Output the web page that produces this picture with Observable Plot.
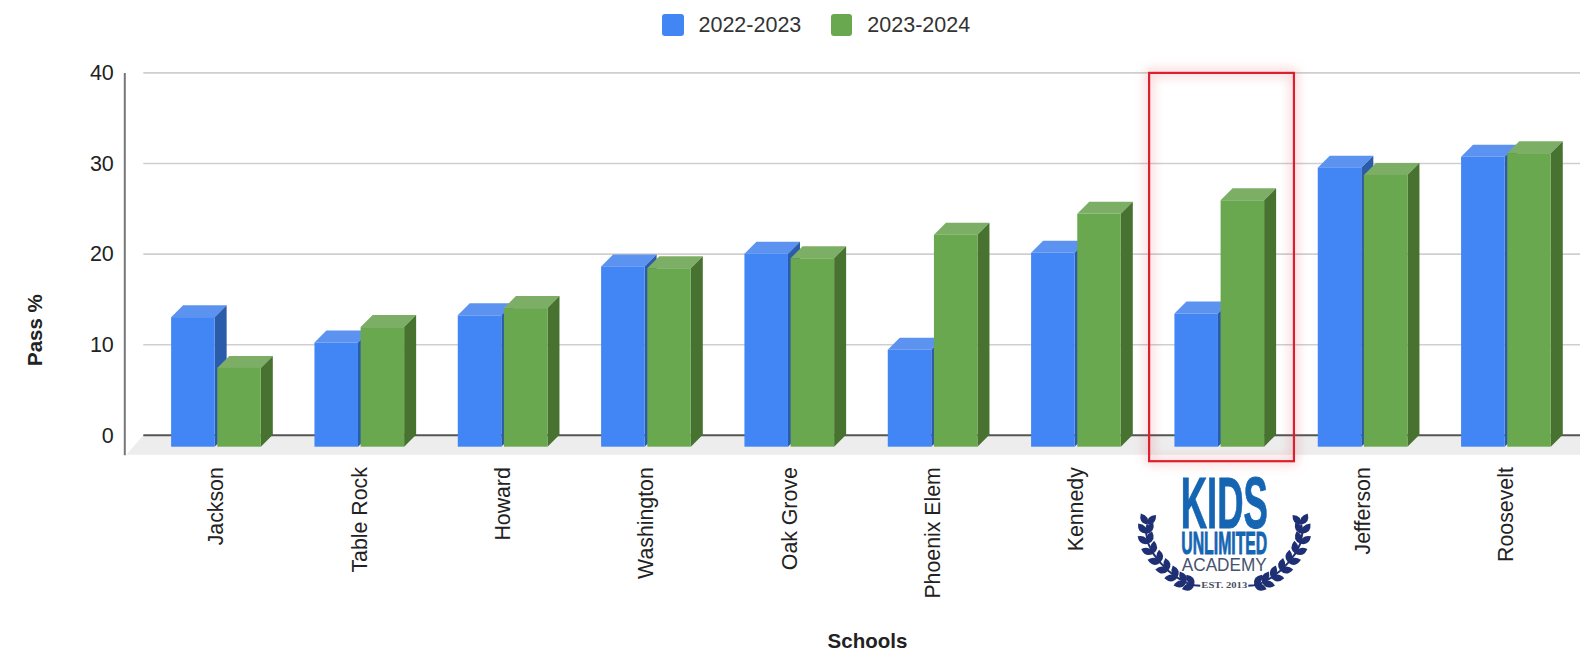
<!DOCTYPE html>
<html>
<head>
<meta charset="utf-8">
<script src="https://cdn.jsdelivr.net/npm/d3@7"></script>
<script src="https://cdn.jsdelivr.net/npm/@observablehq/plot@0.6"></script>
<style>
  html, body { margin: 0; padding: 0; background: #fff; }
  body { width: 1580px; height: 651px; overflow: hidden; font-family: "Liberation Sans", Arial, sans-serif; }
  #legend { height: 50px; position: relative; display: flex; align-items: flex-start; padding-left: 662px; box-sizing: border-box; padding-top: 14px; }
  .item { display: flex; align-items: center; height: 22px; margin-right: 29.5px; font-size: 21.5px; color: #333; }
  .swatch { width: 21.5px; height: 22px; border-radius: 3px; margin-right: 15px; }
  svg { display: block; }
</style>
</head>
<body>
<div id="legend"></div>
<div id="chart"></div>
<script>
const schools = ["Jackson", "Table Rock", "Howard", "Washington", "Oak Grove", "Phoenix Elem", "Kennedy", "Kids Unlimited Academy", "Jefferson", "Roosevelt"];
const seriesNames = ["2022-2023", "2023-2024"];
const values2022 = [14.3, 11.5, 14.5, 19.9, 21.3, 10.7, 21.4, 14.7, 30.8, 32.0];
const values2023 = [8.7, 13.2, 15.3, 19.7, 20.8, 23.4, 25.7, 27.2, 30.0, 32.4];
const yTicks = [0, 10, 20, 30, 40];
const highlighted = "Kids Unlimited Academy";

const front = ["#4285f4", "#6aa84f"];
const topFace = ["#5c93f0", "#7dae65"];
const sideFace = ["#2b5cab", "#47722f"];
const DEPTH = 12;
const BACK = 11.4;

const rows = schools.flatMap((school, i) => [
  {school, series: seriesNames[0], value: values2022[i]},
  {school, series: seriesNames[1], value: values2023[i]}
]);

const ns = "http://www.w3.org/2000/svg";
function el(name, attrs, text) {
  const e = document.createElementNS(ns, name);
  for (const k in attrs) e.setAttribute(k, attrs[k]);
  if (text) e.textContent = text;
  return e;
}

// adds the top and side faces behind every bar the library drew
function box3d(index, scales, values, dimensions, context, next) {
  const g = next(index, scales, values, dimensions, context);
  g.querySelectorAll("rect").forEach((r, n) => {
    const x = +r.getAttribute("x"), y = +r.getAttribute("y");
    const w = +r.getAttribute("width"), h = +r.getAttribute("height");
    const k = seriesNames.indexOf(rows[index[n]].series);
    const d = DEPTH;
    const parent = r.parentNode;
    parent.insertBefore(el("path", {fill: topFace[k], stroke: "none",
      d: `M${x},${y}l${d},${-d}h${w}l${-d},${d}z`}), r);
    parent.insertBefore(el("path", {fill: sideFace[k], stroke: "none",
      d: `M${x + w},${y}l${d},${-d}v${h}l${-d},${d}z`}), r);
  });
  return g;
}

// floor under the bars, back-wall grid lines and the vertical axis line
function floorAndAxis(index, scales, values, dimensions) {
  const g = el("g", {});
  const y0 = scales.y(0), y40 = scales.y(40);
  const {marginLeft, width} = dimensions;
  g.appendChild(el("path", {fill: "#ededed",
    d: `M${marginLeft - 1},${y0 - BACK}H${width}V${y0 + 8}H${marginLeft - 18}z`}));
  for (const t of yTicks) {
    g.appendChild(el("line", {x1: marginLeft - 1, x2: width, y1: scales.y(t) - BACK, y2: scales.y(t) - BACK,
      stroke: t === 0 ? "#555" : "#cfcfcf", "stroke-width": t === 0 ? 2 : 1.6}));
  }
  g.appendChild(el("line", {x1: marginLeft - 19.5, x2: marginLeft - 19.5, y1: y40 - BACK, y2: y0 + 8.5,
    stroke: "#777", "stroke-width": 2}));
  return g;
}

// red highlight box and the school's logo, which stands in for its tick label
function highlightAndLogo(index, scales) {
  const g = el("g", {});
  const x0 = scales.fx(highlighted), bw = scales.fx.bandwidth();
  const y0 = scales.y(0), y40 = scales.y(40);
  g.appendChild(el("rect", {x: x0 + 1.5, width: bw + 1.5, y: y40 - BACK, height: y0 - y40 + BACK + 14.5,
    fill: "none", stroke: "#dc1f2e", "stroke-width": 2.2,
    style: "filter: drop-shadow(0 0 6px rgba(220,40,50,.7))"}));
  const logo = el("g", {transform: `translate(${x0 + bw / 2 + 5},${y0})`, "text-anchor": "middle"});
  const word = (t, y, size, len, fill, weight, font, heavy) => logo.appendChild(el("text", {
    x: 0, y, "font-size": size, textLength: len, lengthAdjust: "spacingAndGlyphs",
    fill, "font-weight": weight, "font-family": font, stroke: fill, "stroke-width": heavy}, t));
  word("KIDS", 81, 72, 87, "#1565b3", "bold", "Liberation Sans", 1);
  word("UNLIMITED", 107.8, 31, 86, "#1565b3", "bold", "Liberation Sans", 0.9);
  word("ACADEMY", 124, 19, 85, "#46526e", "normal", "Liberation Sans", 0);
  word("EST. 2013", 141, 8.5, 46, "#4a4f60", "bold", "Liberation Serif", 0);
  const nodes = [[-30, 138.5], [-38, 136], [-47, 131], [-56, 124], [-64, 116], [-71, 107], [-76, 97], [-78, 87], [-77, 78]];
  for (const side of [-1, 1]) {
    const b = el("g", {transform: `scale(${-side},1)`, fill: "#1f2f73"});
    b.appendChild(el("path", {fill: "none", stroke: "#1f2f73", "stroke-width": 2,
      d: "M-24,139L" + nodes.map(p => p.join(",")).join("L")}));
    nodes.forEach(([x, y], i) => {
      const [nx, ny] = nodes[Math.min(i + 1, nodes.length - 1)];
      const [px, py] = nodes[Math.max(i - 1, 0)];
      const base = Math.atan2(ny - py, nx - px) * 180 / Math.PI;
      for (const a of [-36, 36]) {
        b.appendChild(el("path", {transform: `translate(${x},${y}) rotate(${base + a})`,
          d: "M0,0Q6,-7 13,0Q6,7 0,0z"}));
      }
    });
    logo.appendChild(b);
  }
  g.appendChild(logo);
  return g;
}

const chart = Plot.plot({
  width: 1580,
  height: 601,
  marginLeft: 144.3,
  marginRight: 0,
  marginTop: 34.3,
  marginBottom: 204.3,
  style: {fontFamily: "Liberation Sans, Arial, sans-serif", background: "#fff", color: "#222"},
  fx: {domain: schools, range: [144.3, 1577.6], padding: 0, round: false, label: null},
  x: {domain: seriesNames, paddingInner: 0.057, paddingOuter: 0.581, round: false, axis: null, label: null},
  y: {domain: [0, 40], label: null},
  color: {domain: seriesNames, range: front},
  marks: [
    Plot.frame({facet: "super", stroke: "none", render: floorAndAxis}),
    Plot.axisY(yTicks, {anchor: "left", tickSize: 0, tickPadding: 31, dy: -BACK, fontSize: 21.5, label: null, fill: "#222"}),
    Plot.barY(rows, {fx: "school", x: "series", y: "value", fill: "series", render: box3d}),
    Plot.axisFx({anchor: "bottom", tickSize: 0, tickPadding: 20, tickRotate: -90, fontSize: 21.3, label: null, fill: "#222",
      tickFormat: d => d === highlighted ? "" : d}),
    Plot.text(["Schools"], {facet: "super", frameAnchor: "bottom", dx: 6, dy: 201, fontSize: 20.5, fontWeight: "bold", fill: "#222", text: d => d}),
    Plot.text(["Pass %"], {facet: "super", frameAnchor: "left", rotate: -90, dx: -109, dy: 100, fontSize: 20.5, fontWeight: "bold", fill: "#222", text: d => d}),
    Plot.frame({facet: "super", stroke: "none", render: highlightAndLogo})
  ]
});
document.getElementById("chart").appendChild(chart);

const legend = d3.select("#legend");
seriesNames.forEach((name, i) => {
  const item = legend.append("div").attr("class", "item");
  item.append("div").attr("class", "swatch").style("background", front[i]);
  item.append("span").text(name);
});
</script>
</body>
</html>
